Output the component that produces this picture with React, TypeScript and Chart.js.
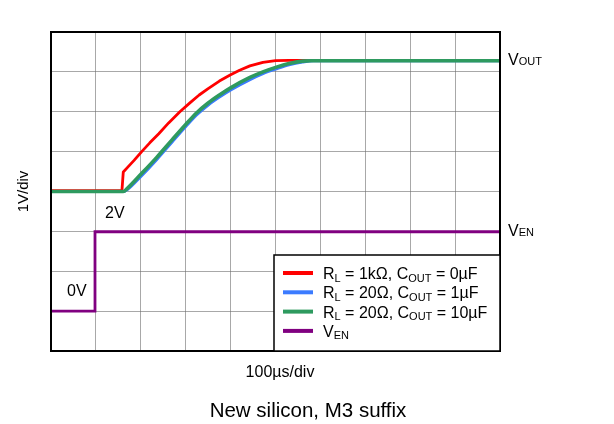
import React, { useEffect, useRef } from "react";
import { Chart, registerables } from "chart.js";

Chart.register(...registerables);

// Time axis in microseconds (100 µs/div), level axis in divisions (1 V/div)
const timeTicksUs = [0, 100, 200, 300, 400, 500, 600, 700, 800, 900, 1000];
const levelTicksDiv = [0, 1, 2, 3, 4, 5, 6, 7, 8];

// R_L = 1kΩ, C_OUT = 0µF
const redTime = [0, 158, 161, 170, 185, 202, 220, 240, 262, 287, 310, 330, 350, 375, 399, 420, 443, 472, 500, 530, 1000];
const redLevel = [4.02, 4.02, 4.49, 4.6, 4.78, 5.0, 5.22, 5.45, 5.72, 6.0, 6.23, 6.42, 6.58, 6.77, 6.92, 7.04, 7.15, 7.24, 7.28, 7.29, 7.29];

// R_L = 20Ω, C_OUT = 1µF
const blueTime = [0, 161, 170, 200, 235, 270, 300, 324, 350, 375, 400, 443, 472, 502, 530, 560, 585, 1000];
const blueLevel = [4.0, 4.0, 4.05, 4.38, 4.8, 5.25, 5.63, 5.92, 6.17, 6.37, 6.55, 6.81, 6.96, 7.08, 7.18, 7.25, 7.28, 7.28];

// R_L = 20Ω, C_OUT = 10µF
const greenTime = [0, 161, 170, 200, 235, 270, 300, 324, 350, 375, 400, 443, 472, 502, 530, 560, 580, 1000];
const greenLevel = [4.0, 4.0, 4.08, 4.43, 4.85, 5.3, 5.68, 5.97, 6.22, 6.42, 6.6, 6.86, 7.0, 7.12, 7.21, 7.27, 7.28, 7.28];

// V_EN
const enTime = [0, 98, 98, 1000];
const enLevel = [1.0, 1.0, 2.99, 2.99];

const FONT = '"Liberation Sans", Arial, Helvetica, sans-serif';

type Part = { t: string; sub?: boolean };

const legendItems: { color: string; parts: Part[] }[] = [
  { color: "#ff0000", parts: [{ t: "R" }, { t: "L", sub: true }, { t: " = 1k\u03A9, C" }, { t: "OUT", sub: true }, { t: " = 0\u00B5F" }] },
  { color: "#3b7bff", parts: [{ t: "R" }, { t: "L", sub: true }, { t: " = 20\u03A9, C" }, { t: "OUT", sub: true }, { t: " = 1\u00B5F" }] },
  { color: "#2e9a5f", parts: [{ t: "R" }, { t: "L", sub: true }, { t: " = 20\u03A9, C" }, { t: "OUT", sub: true }, { t: " = 10\u00B5F" }] },
  { color: "#800080", parts: [{ t: "V" }, { t: "EN", sub: true }] },
];

function drawRich(
  ctx: CanvasRenderingContext2D,
  parts: Part[],
  x: number,
  y: number,
  size: number,
  subSize: number,
  subDrop: number
) {
  let cx = x;
  for (const p of parts) {
    ctx.font = `${p.sub ? subSize : size}px ${FONT}`;
    ctx.fillText(p.t, cx, p.sub ? y + subDrop : y);
    cx += ctx.measureText(p.t).width;
  }
}

const overlayPlugin = {
  id: "overlay",
  afterDatasetsDraw(chart: any) {
    const ctx: CanvasRenderingContext2D = chart.ctx;
    const ca = chart.chartArea;
    ctx.save();
    // frame
    ctx.strokeStyle = "#000";
    ctx.lineWidth = 2;
    ctx.strokeRect(ca.left, ca.top, ca.right - ca.left, ca.bottom - ca.top);

    ctx.fillStyle = "#000";
    ctx.textBaseline = "alphabetic";
    ctx.textAlign = "left";

    // legend box
    const lx = ca.right - 226;
    const ly = ca.bottom - 96;
    ctx.fillStyle = "#fff";
    ctx.fillRect(lx, ly, ca.right - lx, ca.bottom - ly);
    ctx.strokeStyle = "#000";
    ctx.lineWidth = 1.5;
    ctx.strokeRect(lx, ly, ca.right - lx, ca.bottom - ly);
    legendItems.forEach((item, i) => {
      const cy = ly + 18 + i * 19.3;
      ctx.strokeStyle = item.color;
      ctx.lineWidth = 4;
      ctx.beginPath();
      ctx.moveTo(lx + 9, cy);
      ctx.lineTo(lx + 39, cy);
      ctx.stroke();
      ctx.fillStyle = "#000";
      drawRich(ctx, item.parts, lx + 49, cy + 6, 16, 11, 2.5);
    });

    // annotations
    ctx.fillStyle = "#000";
    drawRich(ctx, [{ t: "V" }, { t: "OUT", sub: true }], ca.right + 8, 65, 16, 11, 0);
    drawRich(ctx, [{ t: "V" }, { t: "EN", sub: true }], ca.right + 8, 236, 16, 11, 0);
    drawRich(ctx, [{ t: "2V" }], 105, 218, 16, 11, 0);
    drawRich(ctx, [{ t: "0V" }], 67, 296, 16, 11, 0);

    // axis titles
    ctx.font = `16px ${FONT}`;
    ctx.textAlign = "center";
    ctx.fillText("100\u00B5s/div", 280, 377);
    ctx.font = `20.5px ${FONT}`;
    ctx.fillText("New silicon, M3 suffix", 308, 417);
    ctx.save();
    ctx.translate(28, (ca.top + ca.bottom) / 2);
    ctx.rotate(-Math.PI / 2);
    ctx.font = `15px ${FONT}`;
    ctx.fillText("1V/div", 0, 0);
    ctx.restore();

    ctx.restore();
  },
};

function toPoints(xs: number[], ys: number[]) {
  return xs.map((x, i) => ({ x, y: ys[i] }));
}

export default function App() {
  const ref = useRef<HTMLCanvasElement | null>(null);
  useEffect(() => {
    if (!ref.current) return;
    const chart = new Chart(ref.current, {
      type: "line",
      data: {
        datasets: [
          {
            label: "red",
            data: toPoints(redTime, redLevel),
            borderColor: "#ff0000",
            borderWidth: 2.8,
            pointRadius: 0,
            tension: 0,
            borderJoinStyle: "round",
            order: 3,
          },
          {
            label: "blue",
            data: toPoints(blueTime, blueLevel),
            borderColor: "#3b7bff",
            borderWidth: 3.2,
            pointRadius: 0,
            cubicInterpolationMode: "monotone",
            order: 2,
          },
          {
            label: "green",
            data: toPoints(greenTime, greenLevel),
            borderColor: "#2e9a5f",
            borderWidth: 3.6,
            pointRadius: 0,
            cubicInterpolationMode: "monotone",
            order: 1,
          },
          {
            label: "en",
            data: toPoints(enTime, enLevel),
            borderColor: "#800080",
            borderWidth: 2.8,
            pointRadius: 0,
            tension: 0,
            order: 0,
          },
        ],
      },
      options: {
        responsive: false,
        animation: false,
        devicePixelRatio: 1,
        layout: { padding: { left: 51, top: 32, right: 114, bottom: 73 } },
        plugins: { legend: { display: false }, tooltip: { enabled: false }, title: { display: false } },
        scales: {
          x: {
            type: "linear",
            min: timeTicksUs[0],
            max: timeTicksUs[timeTicksUs.length - 1],
            afterBuildTicks: (s: any) => {
              s.ticks = timeTicksUs.map((v) => ({ value: v }));
            },
            ticks: { display: false },
            grid: { color: "rgba(110,110,110,0.6)", lineWidth: 1, drawTicks: false },
            border: { display: false },
          },
          y: {
            type: "linear",
            min: levelTicksDiv[0],
            max: levelTicksDiv[levelTicksDiv.length - 1],
            afterBuildTicks: (s: any) => {
              s.ticks = levelTicksDiv.map((v) => ({ value: v }));
            },
            ticks: { display: false },
            grid: { color: "rgba(110,110,110,0.6)", lineWidth: 1, drawTicks: false },
            border: { display: false },
          },
        },
      },
      plugins: [overlayPlugin],
    } as any);
    return () => chart.destroy();
  }, []);
  return (
    <div style={{ position: "absolute", left: 0, top: 0, width: 614, height: 424, background: "#fff" }}>
      <canvas ref={ref} width={614} height={424} style={{ width: 614, height: 424, display: "block" }} />
    </div>
  );
}
